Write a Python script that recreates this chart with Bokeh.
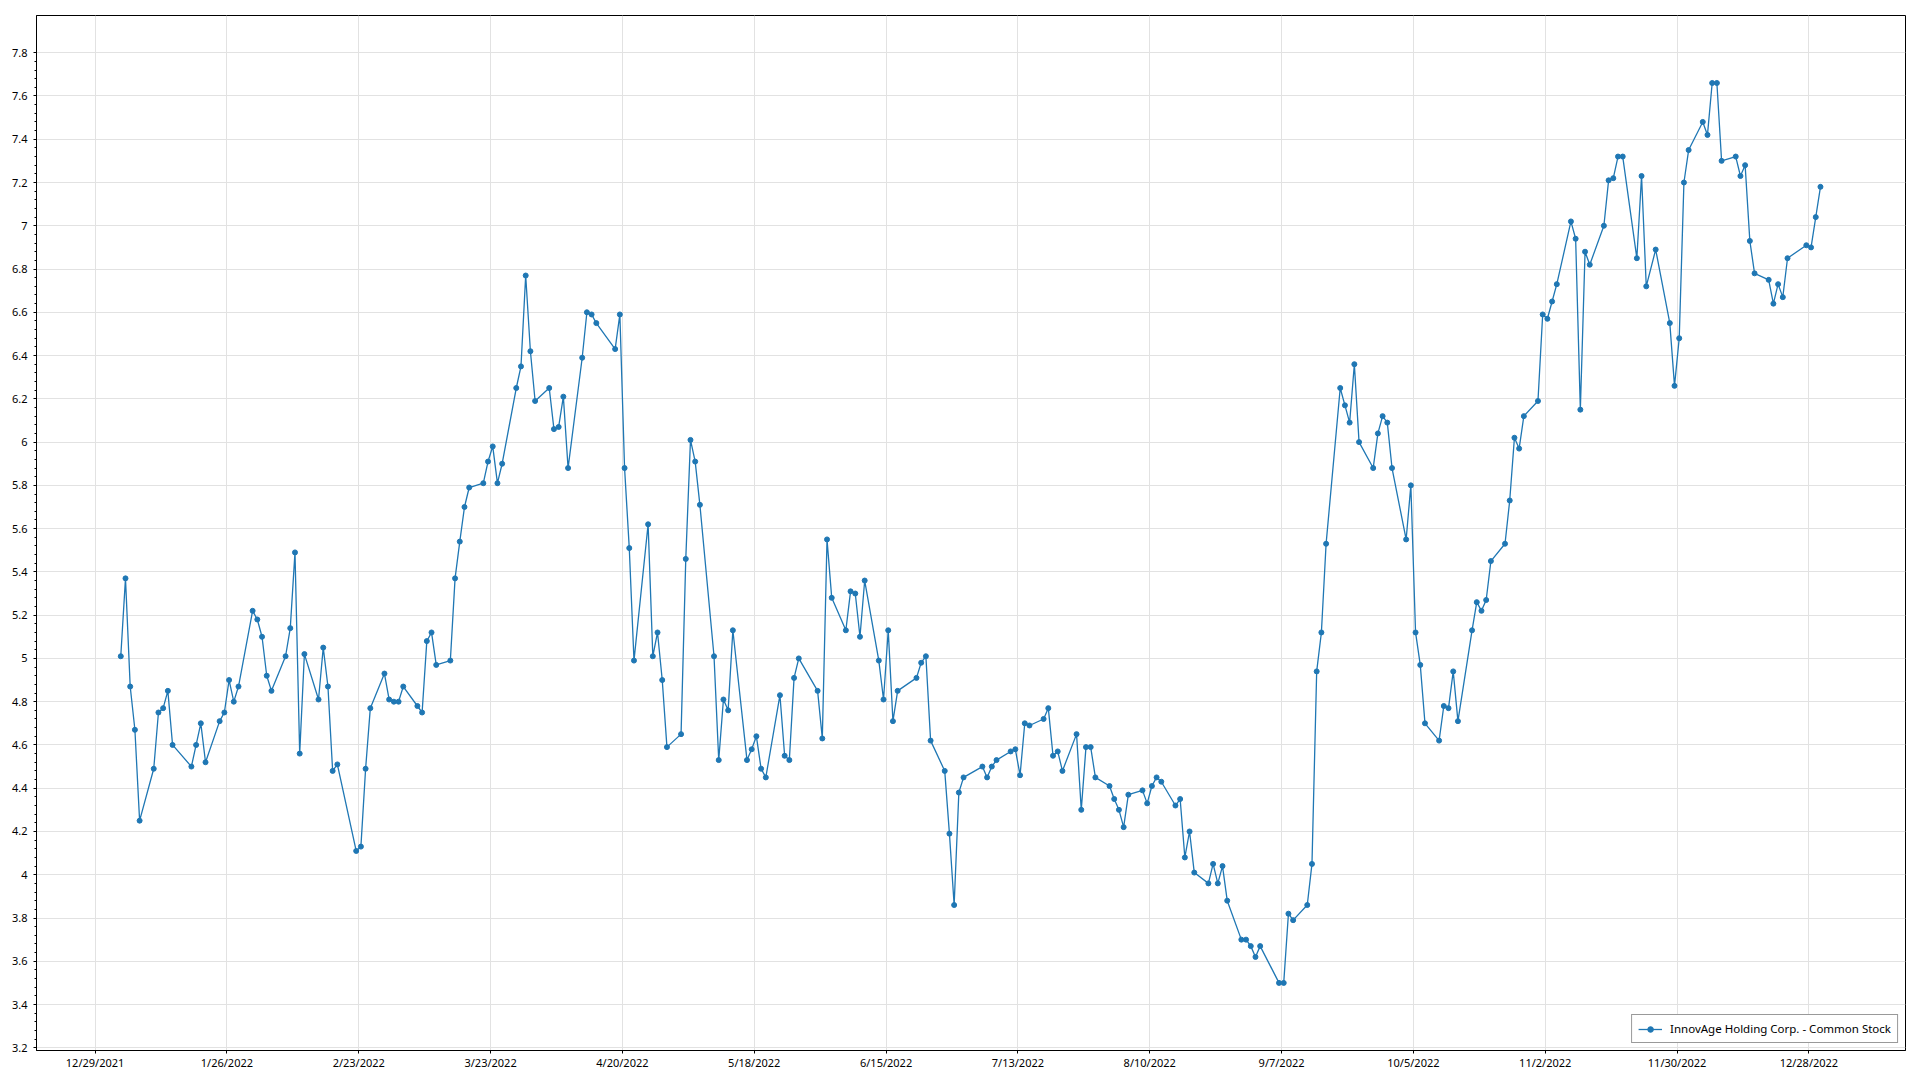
import pandas as pd
from bokeh.plotting import figure
from bokeh.models import Range1d, FixedTicker, CustomJSTickFormatter, ColumnDataSource
from bokeh.embed import file_html
from bokeh.resources import INLINE

SERIES_NAME = "InnovAge Holding Corp. - Common Stock"
YEAR = 2022

# trading days (day of month) and closing prices, month by month
days_jan = [3, 4, 5, 6, 7, 10, 11, 12, 13, 14, 18, 19, 20, 21, 24, 25, 26, 27, 28, 31]
close_jan = [5.01, 5.37, 4.87, 4.67, 4.25, 4.49, 4.75, 4.77, 4.85, 4.60, 4.50, 4.60, 4.70, 4.52, 4.71, 4.75, 4.90, 4.80, 4.87, 5.22]

days_feb = [1, 2, 3, 4, 7, 8, 9, 10, 11, 14, 15, 16, 17, 18, 22, 23, 24, 25, 28]
close_feb = [5.18, 5.10, 4.92, 4.85, 5.01, 5.14, 5.49, 4.56, 5.02, 4.81, 5.05, 4.87, 4.48, 4.51, 4.11, 4.13, 4.49, 4.77, 4.93]

days_mar = [1, 2, 3, 4, 7, 8, 9, 10, 11, 14, 15, 16, 17, 18, 21, 22, 23, 24, 25, 28, 29, 30, 31]
close_mar = [4.81, 4.80, 4.80, 4.87, 4.78, 4.75, 5.08, 5.12, 4.97, 4.99, 5.37, 5.54, 5.70, 5.79, 5.81, 5.91, 5.98, 5.81, 5.90, 6.25, 6.35, 6.77, 6.42]

days_apr = [1, 4, 5, 6, 7, 8, 11, 12, 13, 14, 18, 19, 20, 21, 22, 25, 26, 27, 28, 29]
close_apr = [6.19, 6.25, 6.06, 6.07, 6.21, 5.88, 6.39, 6.60, 6.59, 6.55, 6.43, 6.59, 5.88, 5.51, 4.99, 5.62, 5.01, 5.12, 4.90, 4.59]

days_may = [2, 3, 4, 5, 6, 9, 10, 11, 12, 13, 16, 17, 18, 19, 20, 23, 24, 25, 26, 27, 31]
close_may = [4.65, 5.46, 6.01, 5.91, 5.71, 5.01, 4.53, 4.81, 4.76, 5.13, 4.53, 4.58, 4.64, 4.49, 4.45, 4.83, 4.55, 4.53, 4.91, 5.00, 4.85]

days_jun = [1, 2, 3, 6, 7, 8, 9, 10, 13, 14, 15, 16, 17, 21, 22, 23, 24, 27, 28, 29, 30]
close_jun = [4.63, 5.55, 5.28, 5.13, 5.31, 5.30, 5.10, 5.36, 4.99, 4.81, 5.13, 4.71, 4.85, 4.91, 4.98, 5.01, 4.62, 4.48, 4.19, 3.86, 4.38]

days_jul = [1, 5, 6, 7, 8, 11, 12, 13, 14, 15, 18, 19, 20, 21, 22, 25, 26, 27, 28, 29]
close_jul = [4.45, 4.50, 4.45, 4.50, 4.53, 4.57, 4.58, 4.46, 4.70, 4.69, 4.72, 4.77, 4.55, 4.57, 4.48, 4.65, 4.30, 4.59, 4.59, 4.45]

days_aug = [1, 2, 3, 4, 5, 8, 9, 10, 11, 12, 15, 16, 17, 18, 19, 22, 23, 24, 25, 26, 29, 30, 31]
close_aug = [4.41, 4.35, 4.30, 4.22, 4.37, 4.39, 4.33, 4.41, 4.45, 4.43, 4.32, 4.35, 4.08, 4.20, 4.01, 3.96, 4.05, 3.96, 4.04, 3.88, 3.70, 3.70, 3.67]

days_sep = [1, 2, 6, 7, 8, 9, 12, 13, 14, 15, 16, 19, 20, 21, 22, 23, 26, 27, 28, 29, 30]
close_sep = [3.62, 3.67, 3.50, 3.50, 3.82, 3.79, 3.86, 4.05, 4.94, 5.12, 5.53, 6.25, 6.17, 6.09, 6.36, 6.00, 5.88, 6.04, 6.12, 6.09, 5.88]

days_oct = [3, 4, 5, 6, 7, 10, 11, 12, 13, 14, 17, 18, 19, 20, 21, 24, 25, 26, 27, 28, 31]
close_oct = [5.55, 5.80, 5.12, 4.97, 4.70, 4.62, 4.78, 4.77, 4.94, 4.71, 5.13, 5.26, 5.22, 5.27, 5.45, 5.53, 5.73, 6.02, 5.97, 6.12, 6.19]

days_nov = [1, 2, 3, 4, 7, 8, 9, 10, 11, 14, 15, 16, 17, 18, 21, 22, 23, 25, 28, 29, 30]
close_nov = [6.59, 6.57, 6.65, 6.73, 7.02, 6.94, 6.15, 6.88, 6.82, 7.00, 7.21, 7.22, 7.32, 7.32, 6.85, 7.23, 6.72, 6.89, 6.55, 6.26, 6.48]

days_dec = [1, 2, 5, 6, 7, 8, 9, 12, 13, 14, 15, 16, 19, 20, 21, 22, 23, 27, 28, 29, 30]
close_dec = [7.20, 7.35, 7.48, 7.42, 7.66, 7.66, 7.30, 7.32, 7.23, 7.28, 6.93, 6.78, 6.75, 6.64, 6.73, 6.67, 6.85, 6.91, 6.90, 7.04, 7.18]

# x-axis tick dates (labels) and y-axis ticks
x_tick_dates = ["2021-12-29", "2022-01-26", "2022-02-23", "2022-03-23", "2022-04-20",
                "2022-05-18", "2022-06-15", "2022-07-13", "2022-08-10", "2022-09-07",
                "2022-10-05", "2022-11-02", "2022-11-30", "2022-12-28"]
y_ticks = [3.2, 3.4, 3.6, 3.8, 4.0, 4.2, 4.4, 4.6, 4.8, 5.0, 5.2, 5.4, 5.6, 5.8,
           6.0, 6.2, 6.4, 6.6, 6.8, 7.0, 7.2, 7.4, 7.6, 7.8]

month_days = [days_jan, days_feb, days_mar, days_apr, days_may, days_jun,
              days_jul, days_aug, days_sep, days_oct, days_nov, days_dec]
month_close = [close_jan, close_feb, close_mar, close_apr, close_may, close_jun,
               close_jul, close_aug, close_sep, close_oct, close_nov, close_dec]

dates, closes = [], []
for m, (dd, cc) in enumerate(zip(month_days, month_close), start=1):
    assert len(dd) == len(cc)
    dates += [pd.Timestamp(YEAR, m, d) for d in dd]
    closes += cc

src = ColumnDataSource(dict(date=dates, close=closes))

EPOCH = pd.Timestamp("1970-01-01")
def ms(ts):
    return (pd.Timestamp(ts) - EPOCH).total_seconds() * 1000.0

# the reference places its day ticks about half a day before the data points
TICK_SHIFT = pd.Timedelta(hours=11)
x_ticks_ms = [ms(pd.Timestamp(t) - TICK_SHIFT) for t in x_tick_dates]

x_start = dates[0] - pd.Timedelta(days=17.9)
x_end = dates[-1] + pd.Timedelta(days=18.06)

p = figure(width=1912, height=1073, x_axis_type="datetime",
           x_range=Range1d(x_start, x_end), y_range=Range1d(3.1875, 7.972),
           output_backend="svg", toolbar_location=None,
           min_border_left=36, min_border_right=7, min_border_top=15, min_border_bottom=23)

p.background_fill_color = "white"
p.border_fill_color = "white"
p.outline_line_color = "black"
p.outline_line_width = 1
p.outline_line_alpha = 1

xticker = FixedTicker(ticks=x_ticks_ms, minor_ticks=[])
minor_y = [round(3.2 + 0.04 * i, 2) for i in range(0, 116)]
yticker = FixedTicker(ticks=y_ticks, minor_ticks=minor_y)

p.xaxis.ticker = xticker
p.yaxis.ticker = yticker
p.xgrid.ticker = xticker
p.ygrid.ticker = yticker
p.grid.grid_line_color = "#e2e2e2"
p.grid.grid_line_width = 1

p.xaxis.formatter = CustomJSTickFormatter(code="""
    const d = new Date(tick + 43200000);
    return (d.getUTCMonth() + 1) + '/' + d.getUTCDate() + '/' + d.getUTCFullYear();
""")
p.yaxis.formatter = CustomJSTickFormatter(code="""
    return String(Number(tick.toFixed(1)));
""")

for ax in p.axis:
    ax.axis_line_color = "black"
    ax.axis_line_width = 1
    ax.major_tick_line_color = "black"
    ax.major_tick_in = 0
    ax.major_tick_out = 3
    ax.minor_tick_in = 0
    ax.major_label_text_font = "Noto Sans"
    ax.major_label_text_font_size = "11px"
    ax.major_label_text_color = "black"

p.yaxis.minor_tick_out = 2
p.yaxis.minor_tick_line_color = "black"
p.xaxis.minor_tick_line_color = None
p.yaxis.major_label_standoff = 6
p.xaxis.major_label_standoff = 1

p.line("date", "close", source=src, line_color="#1f77b4", line_width=1.3,
       legend_label=SERIES_NAME)
p.scatter("date", "close", source=src, size=5, fill_color="#1f77b4",
          line_color="#1f77b4", legend_label=SERIES_NAME)

lg = p.legend[0]
lg.location = "bottom_right"
lg.margin = 7
lg.padding = 6
lg.spacing = 0
lg.border_line_color = "#333333"
lg.border_line_width = 1
lg.background_fill_color = "white"
lg.background_fill_alpha = 1
lg.glyph_width = 24
lg.glyph_height = 14
lg.label_height = 14
lg.label_standoff = 8
lg.label_text_font = "Noto Sans"
lg.label_text_font_size = "11.5px"
lg.label_text_color = "black"

open("out.html", "w").write(file_html(p, INLINE))
